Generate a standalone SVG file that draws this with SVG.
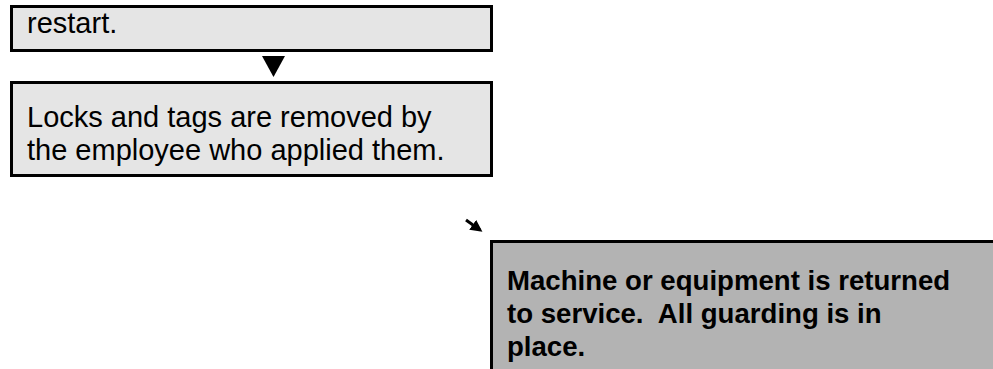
<svg xmlns="http://www.w3.org/2000/svg" width="993" height="369" viewBox="0 0 993 369">
<style>
.box{stroke:#000;stroke-width:3}
.light{fill:#e5e5e5}
.dark{fill:#b3b3b3}
.t{font-family:"Liberation Sans",Arial,sans-serif;font-size:29px;fill:#000;white-space:pre}
.b{font-weight:bold;font-size:27.6px}
</style>
<defs>
<marker id="ah" markerWidth="4" markerHeight="4" refX="3" refY="2" orient="auto" markerUnits="strokeWidth">
<path d="M0,0 L4,2 L0,4 Z" fill="#000"/>
</marker>
</defs>
<rect width="993" height="369" fill="#fff"/>
<g id="node-restart">
<rect class="box light" x="11.5" y="6.5" width="480" height="44"/>
<text class="t" x="27" y="33">restart.</text>
</g>
<g id="node-locks">
<rect class="box light" x="11.5" y="82.5" width="480" height="93"/>
<text class="t" x="27" y="127">Locks and tags are removed by</text>
<text class="t" x="27" y="160">the employee who applied them.</text>
</g>
<g id="node-service">
<rect class="box dark" x="491.5" y="241.5" width="520" height="200"/>
<text class="t b" x="507" y="290">Machine or equipment is returned</text>
<text class="t b" x="507" y="323" xml:space="preserve">to service.  All guarding is in</text>
<text class="t b" x="507" y="356">place.</text>
</g>
<g id="connectors">
<path d="M262,56 L285,56 L273.5,77 Z" fill="#000"/>
<line x1="466" y1="220" x2="480" y2="230" stroke="#000" stroke-width="3" marker-end="url(#ah)"/>
</g>
</svg>
